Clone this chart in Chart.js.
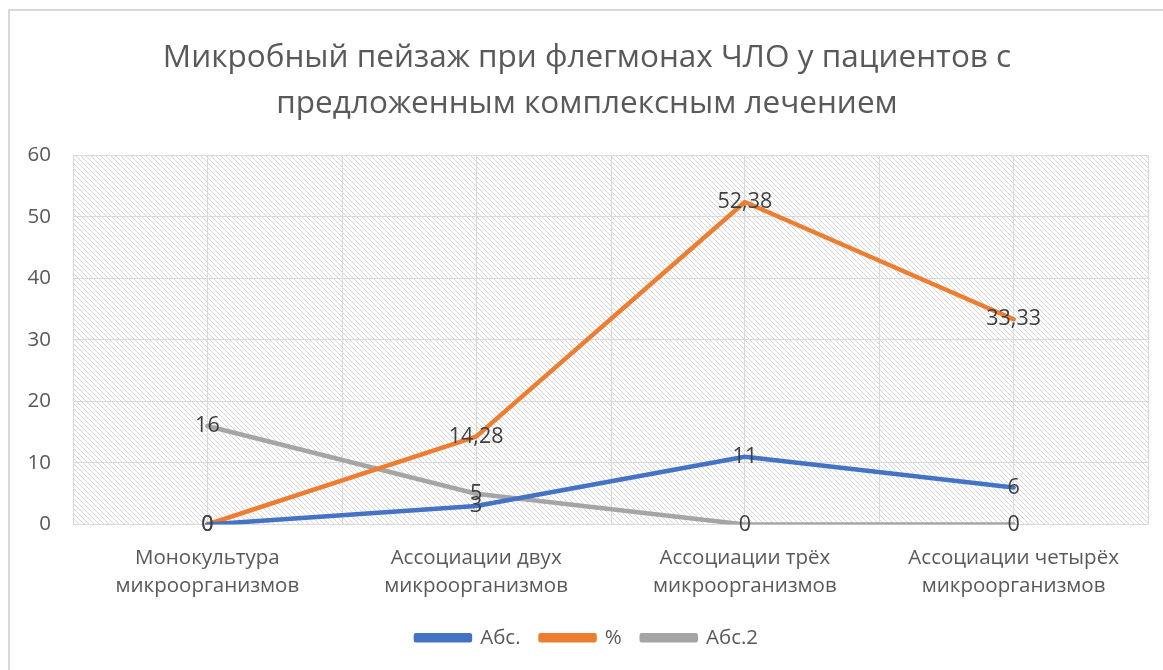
<!DOCTYPE html>
<html>
<head>
<meta charset="utf-8">
<script src="https://cdn.jsdelivr.net/npm/chart.js@4/dist/chart.umd.min.js"></script>
<style>
    html, body { margin: 0; padding: 0; background: #fff; }
    #wrap { width: 1163px; height: 670px; }
</style>
</head>
<body>
<div id="wrap"><canvas id="chart"></canvas></div>
<script>
// ===== data =====
const categories = [
    ['Монокультура', 'микроорганизмов'],
    ['Ассоциации двух', 'микроорганизмов'],
    ['Ассоциации трёх', 'микроорганизмов'],
    ['Ассоциации четырёх', 'микроорганизмов']
];
const absValues = [0, 3, 11, 6];
const pctValues = [0, 14.28, 52.38, 33.33];
const abs2Values = [16, 5, 0, 0];
const yTicks = [0, 10, 20, 30, 40, 50, 60];
const titleLines = ['Микробный пейзаж при флегмонах ЧЛО у пациентов с', 'предложенным комплексным лечением'];

const FONT = "'Open Sans', 'Noto Sans', sans-serif";
const TEXT = '#595959';
const GRID = '#d9d9d9';

// diagonal hatch used as plot area fill
function makeHatch() {
    const c = document.createElement('canvas');
    c.width = 5; c.height = 5;
    const g = c.getContext('2d');
    g.strokeStyle = '#d6d6d6';
    g.lineWidth = 1;
    g.beginPath();
    g.moveTo(-1, -1); g.lineTo(6, 6);
    g.moveTo(-1, 4); g.lineTo(1, 6);
    g.moveTo(4, -1); g.lineTo(6, 1);
    g.stroke();
    return c;
}

const backgroundPlugin = {
    id: 'background',
    beforeDraw(chart) {
        const ctx = chart.ctx;
        const a = chart.chartArea;
        ctx.save();
        // outer frame
        ctx.strokeStyle = GRID;
        ctx.lineWidth = 2;
        ctx.strokeRect(9, 10, chart.width + 20, chart.height + 20);
        // hatched plot area
        ctx.fillStyle = ctx.createPattern(makeHatch(), 'repeat');
        ctx.fillRect(a.left, a.top, a.right - a.left, a.bottom - a.top);
        // vertical lines at category borders (centers come from the grid)
        const x = chart.scales.x;
        ctx.strokeStyle = GRID;
        ctx.lineWidth = 1;
        ctx.beginPath();
        for (let i = 0; i <= categories.length; i++) {
            const px = Math.round(x.getPixelForValue(i - 0.5)) + 0.5;
            ctx.moveTo(px, a.top);
            ctx.lineTo(px, a.bottom);
        }
        ctx.stroke();
        ctx.restore();
    }
};

// value labels centered on the points
const labelPlugin = {
    id: 'valueLabels',
    afterDatasetsDraw(chart) {
        const ctx = chart.ctx;
        ctx.save();
        ctx.font = '21.5px ' + FONT;
        ctx.fillStyle = '#404040';
        ctx.textAlign = 'center';
        ctx.textBaseline = 'middle';
        chart.data.datasets.forEach((ds, i) => {
            chart.getDatasetMeta(i).data.forEach((pt, j) => {
                ctx.fillText(String(ds.data[j]).replace('.', ','), pt.x, pt.y);
            });
        });
        ctx.restore();
    }
};

const lineSet = (label, data, color) => ({
    label: label,
    data: data,
    borderColor: color,
    backgroundColor: color,
    borderWidth: 4.5,
    borderCapStyle: 'round',
    borderJoinStyle: 'round',
    pointRadius: 0,
    tension: 0
});

new Chart(document.getElementById('chart'), {
    type: 'line',
    data: {
        labels: categories,
        datasets: [
            lineSet('Абс.', absValues, '#4472c4'),
            lineSet('%', pctValues, '#ed7d31'),
            lineSet('Абс.2', abs2Values, '#a5a5a5')
        ]
    },
    options: {
        responsive: true,
        maintainAspectRatio: false,
        animation: false,
        layout: { padding: { left: 26, right: 15, top: 0, bottom: 12 } },
        plugins: {
            title: {
                display: true,
                text: titleLines,
                color: TEXT,
                font: { family: FONT, size: 31.5, weight: 'normal', lineHeight: 1.43 },
                padding: { top: 36, bottom: 29 }
            },
            legend: {
                position: 'bottom',
                labels: {
                    color: TEXT,
                    font: { family: FONT, size: 20.5 },
                    boxWidth: 54,
                    boxHeight: 5,
                    padding: 20
                }
            },
            tooltip: { enabled: false }
        },
        scales: {
            x: {
                offset: true,
                border: { display: false },
                grid: { color: GRID, drawTicks: false, offset: false },
                ticks: {
                    color: TEXT,
                    font: { family: FONT, size: 20.5, lineHeight: 1.4 },
                    padding: 19,
                    maxRotation: 0
                },
                afterFit(scale) { scale.height = 83; }
            },
            y: {
                min: yTicks[0],
                max: yTicks[yTicks.length - 1],
                border: { display: false },
                grid: { color: GRID, drawTicks: false },
                afterBuildTicks(scale) { scale.ticks = yTicks.map(v => ({ value: v })); },
                ticks: {
                    color: TEXT,
                    font: { family: FONT, size: 20.5 },
                    padding: 22
                },
                afterFit(scale) { scale.width = 47; }
            }
        }
    },
    plugins: [backgroundPlugin, labelPlugin]
});
</script>
</body>
</html>
